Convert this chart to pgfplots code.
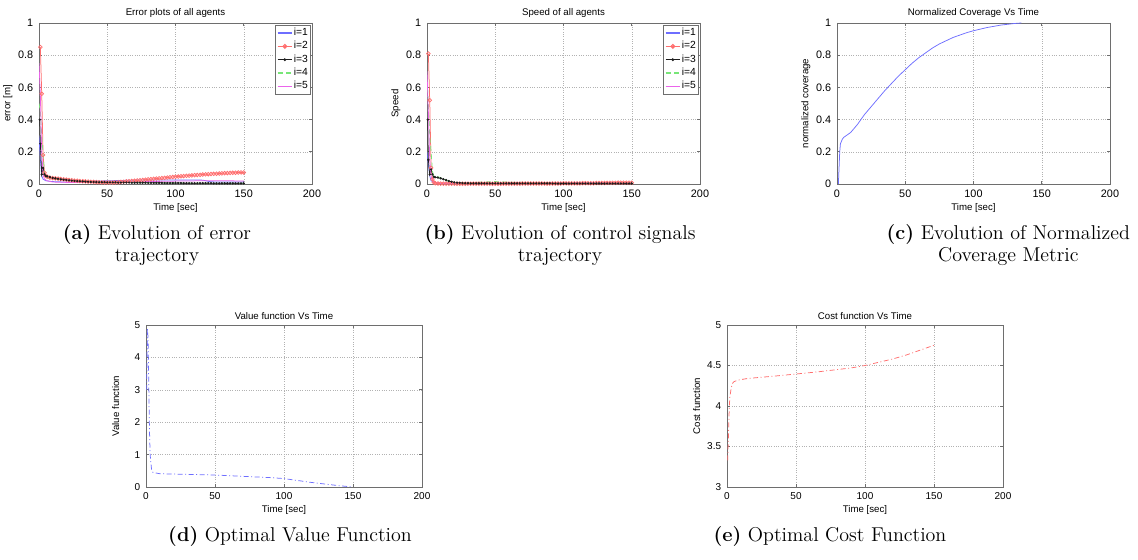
\documentclass[border=0pt]{standalone}
\usepackage{fontspec}
\newfontfamily\axfont{Liberation Sans}
\usepackage{pgfplots}
\pgfplotsset{compat=1.18}

\definecolor{mblue}{RGB}{110,110,255}
\definecolor{mred}{RGB}{255,110,110}
\definecolor{mblack}{RGB}{30,30,30}
\definecolor{mgreen}{RGB}{120,230,120}
\definecolor{mmag}{RGB}{235,100,235}
\definecolor{axgray}{RGB}{110,110,110}

\pgfplotsset{
  matlab/.style={
    scale only axis, xmin=0, xmax=200, xtick={0,50,100,150,200},
    grid=major, grid style={densely dotted, gray!60, line width=0.3pt},
    axis line style={axgray, line width=0.5pt},
    tick style={axgray, line width=0.4pt}, major tick length=2pt, tick align=inside,
    ticklabel style={font=\axfont\fontsize{6.5}{7}\selectfont},
    /pgf/number format/assume math mode=true,
    title style={font=\axfont\fontsize{5.8}{6.5}\selectfont, yshift=-6pt},
    label style={font=\axfont\fontsize{5.8}{6.5}\selectfont},
    xlabel={Time [sec]},
    xlabel style={yshift=3.5pt},
    ylabel style={at={(axis description cs:0,0.5)}, anchor=south, yshift=12.5pt},
    every axis plot/.append style={line width=0.45pt},
  },
  top/.style={matlab, width=163.8pt, height=96.6pt, ymin=0, ymax=1, ytick={0,0.2,0.4,0.6,0.8,1}},
  bot/.style={matlab, width=165.6pt, height=97.2pt, ticklabel style={font=\axfont\fontsize{6}{7}\selectfont}},
  lgd/.style={legend style={at={(1,1)}, anchor=north east, xshift=-0.6pt, yshift=-1.2pt,
      font=\axfont\fontsize{6.2}{7}\selectfont, draw=axgray, line width=0.5pt,
      inner sep=0.8pt, row sep=0.4pt, cells={anchor=west},
      nodes={inner sep=0.8pt}},
    legend image code/.code={\draw[mark repeat=2,mark phase=2,##1,line width=0.7pt] plot coordinates {(0cm,0cm) (0.15cm,0cm) (0.3cm,0cm)};}},
  s1/.style={color=mblue, no marks},
  s2/.style={color=mred, mark=o, mark size=1.1pt},
  s3/.style={color=mblack, mark=*, mark size=0.45pt},
  s4/.style={color=mgreen, no marks, dash pattern=on 3pt off 2pt},
  s5/.style={color=mmag, no marks},
}

\begin{document}
\begin{tikzpicture}
\path[use as bounding box] (0,0) rectangle (682.8pt,335.4pt);

% (a) error
\begin{axis}[top, lgd, at={(23.4pt,225pt)}, anchor=south west,
  title={Error plots of all agents}, ylabel={error [m]}]
\addplot[s1] coordinates {(0,0.3) (1,0.15) (2,0.05) (3,0.03) (5,0.02) (10,0.015) (20,0.012) (30,0.015) (40,0.018) (50,0.02) (60,0.022) (70,0.024) (80,0.025) (90,0.025) (100,0.025) (110,0.025) (120,0.024) (125,0.015) (130,0.012) (140,0.012) (150,0.012)};
\addlegendentry{i=1}
\addplot[s2] coordinates {(1,0.85) (2,0.56) (3,0.18) (4,0.07) (5,0.05) (6,0.045) (8,0.04) (10,0.037) (12,0.035) (14,0.033) (16,0.031) (18,0.029) (20,0.027) (22,0.025) (24,0.023) (26,0.021) (28,0.02) (30,0.018) (32,0.017) (34,0.016) (36,0.015) (38,0.014) (40,0.013) (42,0.012) (44,0.011) (46,0.01) (48,0.0095) (50,0.009) (52,0.009) (54,0.0095) (56,0.01) (58,0.011) (60,0.013) (62,0.014) (64,0.016) (66,0.017) (68,0.019) (70,0.02) (72,0.022) (74,0.024) (76,0.025) (78,0.027) (80,0.029) (82,0.03) (84,0.032) (86,0.034) (88,0.035) (90,0.037) (92,0.038) (94,0.04) (96,0.042) (98,0.043) (100,0.045) (102,0.046) (104,0.048) (106,0.049) (108,0.051) (110,0.052) (112,0.053) (114,0.055) (116,0.056) (118,0.057) (120,0.059) (122,0.06) (124,0.061) (126,0.062) (128,0.063) (130,0.064) (132,0.065) (134,0.066) (136,0.067) (138,0.068) (140,0.069) (142,0.07) (144,0.07) (146,0.071) (148,0.072) (150,0.072)};
\addlegendentry{i=2}
\addplot[s3] coordinates {(0.5,0.4) (1,0.25) (2,0.06) (3,0.1) (4,0.06) (5,0.05) (6,0.047) (8,0.043) (10,0.038) (12,0.035) (14,0.032) (16,0.029) (18,0.027) (20,0.025) (22,0.023) (24,0.021) (26,0.019) (28,0.018) (30,0.017) (32,0.016) (34,0.015) (36,0.014) (38,0.013) (40,0.012) (42,0.012) (44,0.011) (46,0.011) (48,0.011) (50,0.01) (52,0.01) (54,0.01) (56,0.01) (58,0.009) (60,0.009) (62,0.009) (64,0.009) (66,0.009) (68,0.008) (70,0.008) (72,0.008) (74,0.008) (76,0.008) (78,0.008) (80,0.007) (82,0.007) (84,0.007) (86,0.007) (88,0.007) (90,0.007) (92,0.006) (94,0.006) (96,0.006) (98,0.006) (100,0.006) (102,0.006) (104,0.006) (106,0.005) (108,0.005) (110,0.005) (112,0.005) (114,0.005) (116,0.005) (118,0.005) (120,0.005) (122,0.005) (124,0.005) (126,0.005) (128,0.004) (130,0.004) (132,0.004) (134,0.004) (136,0.004) (138,0.004) (140,0.004) (142,0.004) (144,0.004) (146,0.004) (148,0.004) (150,0.004)};
\addlegendentry{i=3}
\addplot[s4] coordinates {(0,0.5) (1,0.45) (2,0.3) (3,0.18) (4,0.08) (5,0.04) (10,0.03) (20,0.025) (30,0.02) (40,0.015) (50,0.012) (60,0.01) (80,0.008) (100,0.006) (120,0.005) (150,0.004)};
\addlegendentry{i=4}
\addplot[s5] coordinates {(0,0.75) (1,0.55) (2,0.2) (3,0.06) (4,0.03) (6,0.02) (10,0.012) (20,0.01) (40,0.01) (60,0.012) (80,0.015) (100,0.018) (120,0.02) (140,0.02) (150,0.018)};
\addlegendentry{i=5}
\end{axis}

% (b) speed
\begin{axis}[top, lgd, at={(256.2pt,225pt)}, anchor=south west,
  title={Speed of all agents}, ylabel={Speed}]
\addplot[s1] coordinates {(0,0.2) (1,0.12) (2,0.05) (3,0.02) (5,0.01) (10,0.005) (30,0.004) (50,0.005) (75,0.006) (100,0.008) (120,0.01) (135,0.009) (150,0.008)};
\addlegendentry{i=1}
\addplot[s2] coordinates {(1,0.81) (2,0.52) (3,0.1) (4,0.03) (5,0.01) (6,0.005) (8,0.003) (10,0.002) (12,0.002) (14,0.002) (16,0.002) (18,0.002) (20,0.002) (22,0.002) (24,0.002) (26,0.002) (28,0.002) (30,0.002) (32,0.002) (34,0.002) (36,0.002) (38,0.002) (40,0.002) (42,0.002) (44,0.002) (46,0.002) (48,0.002) (50,0.002) (52,0.002) (54,0.002) (56,0.002) (58,0.002) (60,0.002) (62,0.002) (64,0.002) (66,0.002) (68,0.002) (70,0.003) (72,0.003) (74,0.003) (76,0.003) (78,0.003) (80,0.003) (82,0.003) (84,0.003) (86,0.003) (88,0.003) (90,0.003) (92,0.003) (94,0.003) (96,0.003) (98,0.003) (100,0.004) (102,0.004) (104,0.004) (106,0.004) (108,0.004) (110,0.004) (112,0.004) (114,0.005) (116,0.005) (118,0.005) (120,0.005) (122,0.005) (124,0.006) (126,0.006) (128,0.006) (130,0.006) (132,0.007) (134,0.007) (136,0.007) (138,0.007) (140,0.008) (142,0.008) (144,0.008) (146,0.008) (148,0.008) (150,0.008)};
\addlegendentry{i=2}
\addplot[s3] coordinates {(0.5,0.4) (1,0.15) (2,0.06) (3,0.09) (4,0.06) (5,0.045) (6,0.042) (8,0.04) (10,0.035) (12,0.03) (14,0.024) (16,0.018) (18,0.014) (20,0.01) (22,0.008) (24,0.007) (26,0.006) (28,0.005) (30,0.005) (32,0.004) (34,0.004) (36,0.004) (38,0.004) (40,0.004) (42,0.004) (44,0.004) (46,0.004) (48,0.004) (50,0.004) (52,0.004) (54,0.004) (56,0.004) (58,0.004) (60,0.004) (62,0.004) (64,0.004) (66,0.004) (68,0.004) (70,0.004) (72,0.004) (74,0.004) (76,0.004) (78,0.004) (80,0.004) (82,0.004) (84,0.004) (86,0.004) (88,0.004) (90,0.004) (92,0.003) (94,0.003) (96,0.003) (98,0.003) (100,0.003) (102,0.003) (104,0.003) (106,0.003) (108,0.003) (110,0.003) (112,0.003) (114,0.003) (116,0.003) (118,0.003) (120,0.003) (122,0.003) (124,0.003) (126,0.003) (128,0.003) (130,0.003) (132,0.003) (134,0.003) (136,0.003) (138,0.003) (140,0.003) (142,0.003) (144,0.003) (146,0.003) (148,0.003) (150,0.003)};
\addlegendentry{i=3}
\addplot[s4] coordinates {(0,0.65) (1,0.5) (2,0.3) (3,0.2) (4,0.08) (5,0.05) (10,0.04) (15,0.02) (20,0.01) (30,0.008) (40,0.012) (50,0.015) (60,0.012) (80,0.008) (100,0.006) (150,0.005)};
\addlegendentry{i=4}
\addplot[s5] coordinates {(0,0.7) (1,0.45) (2,0.15) (3,0.05) (4,0.02) (6,0.01) (10,0.005) (50,0.003) (100,0.003) (150,0.003)};
\addlegendentry{i=5}
\end{axis}

% (c) coverage
\begin{axis}[top, at={(502.2pt,225pt)}, anchor=south west,
  title={Normalized Coverage Vs Time}, ylabel={normalized coverage}]
\addplot[mblue, no marks] coordinates {(1,0) (1.5,0.1) (2,0.2) (2.5,0.25) (4,0.28) (5,0.29) (10,0.32) (15,0.37) (20,0.43) (25,0.48) (30,0.53) (35,0.58) (40,0.625) (45,0.67) (50,0.71) (55,0.75) (60,0.785) (65,0.815) (70,0.845) (75,0.87) (80,0.89) (85,0.91) (90,0.925) (95,0.94) (100,0.952) (110,0.972) (120,0.987) (130,0.997) (135,1)};
\end{axis}

% (d) value function
\begin{axis}[bot, at={(87.6pt,43.2pt)}, anchor=south west,
  ymin=0, ymax=5, ytick={0,1,2,3,4,5},
  title={Value function Vs Time}, ylabel={Value function}]
\addplot[mblue, no marks, dash pattern=on 3pt off 1.5pt on 0.6pt off 1.5pt] coordinates {(0.5,3.0) (1,4.9) (1.5,4.6) (2,3.2) (2.5,1.8) (3,1.0) (4,0.55) (5,0.45) (10,0.41) (20,0.4) (30,0.39) (40,0.38) (50,0.37) (60,0.35) (70,0.33) (80,0.31) (90,0.29) (100,0.26) (110,0.2) (120,0.14) (130,0.09) (140,0.04) (150,0)};
\end{axis}

% (e) cost function
\begin{axis}[bot, at={(436.2pt,43.2pt)}, anchor=south west,
  ymin=3, ymax=5, ytick={3,3.5,4,4.5,5},
  title={Cost function Vs Time}, ylabel={Cost function}]
\addplot[mred, no marks, dash pattern=on 3pt off 1.5pt on 0.6pt off 1.5pt] coordinates {(0.5,3.33) (1,3.6) (1.5,3.9) (2,4.1) (3,4.22) (4,4.28) (5,4.3) (8,4.32) (15,4.34) (25,4.355) (35,4.37) (50,4.395) (65,4.42) (80,4.45) (90,4.47) (100,4.5) (110,4.54) (120,4.58) (130,4.63) (140,4.69) (150,4.75)};
\end{axis}

% captions
\begin{scope}[every node/.style={anchor=base, font=\fontsize{12}{14}\selectfont, inner sep=0pt}]
\node at (94.2pt,192pt) {\textbf{(a)} Evolution of error};
\node at (94.2pt,178.8pt) {trajectory};
\node at (336pt,192pt) {\textbf{(b)} Evolution of control signals};
\node at (336pt,178.8pt) {trajectory};
\node at (605pt,192pt) {\textbf{(c)} Evolution of Normalized};
\node at (605pt,178.8pt) {Coverage Metric};
\node at (174pt,10.8pt) {\textbf{(d)} Optimal Value Function};
\node at (498pt,10.8pt) {\textbf{(e)} Optimal Cost Function};
\end{scope}
\end{tikzpicture}
\end{document}
